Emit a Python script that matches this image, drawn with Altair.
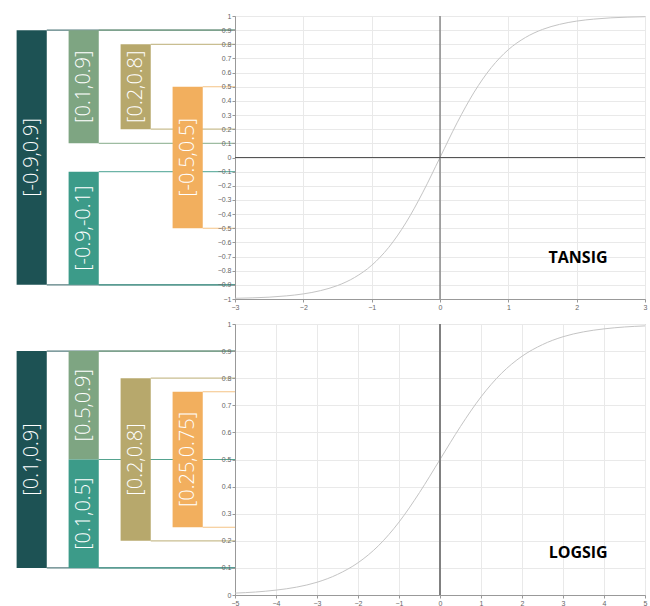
import altair as alt
import pandas as pd

# --- transfer function samples -------------------------------------------
tansig_x = [-3, -2.75, -2.5, -2.25, -2, -1.75, -1.5, -1.25, -1, -0.75, -0.5, -0.25,
            0, 0.25, 0.5, 0.75, 1, 1.25, 1.5, 1.75, 2, 2.25, 2.5, 2.75, 3]
tansig_y = [-0.995, -0.992, -0.987, -0.978, -0.964, -0.941, -0.905, -0.848, -0.762,
            -0.635, -0.462, -0.245, 0.0, 0.245, 0.462, 0.635, 0.762, 0.848, 0.905,
            0.941, 0.964, 0.978, 0.987, 0.992, 0.995]

logsig_x = [-5, -4.5, -4, -3.5, -3, -2.5, -2, -1.5, -1, -0.5, 0,
            0.5, 1, 1.5, 2, 2.5, 3, 3.5, 4, 4.5, 5]
logsig_y = [0.007, 0.011, 0.018, 0.029, 0.047, 0.076, 0.119, 0.182, 0.269, 0.378, 0.5,
            0.622, 0.731, 0.818, 0.881, 0.924, 0.953, 0.971, 0.982, 0.989, 0.993]

# --- normalisation ranges drawn beside each curve --------------------------
range_names = ["outer", "upper", "lower", "inner", "center"]
range_cols = [0, 1, 1, 2, 3]

tan_lo = [-0.9, 0.1, -0.9, 0.2, -0.5]
tan_hi = [0.9, 0.9, -0.1, 0.8, 0.5]

log_lo = [0.1, 0.5, 0.1, 0.2, 0.25]
log_hi = [0.9, 0.9, 0.5, 0.8, 0.75]

# --- axis ticks -----------------------------------------------------------
tan_xticks = [-3, -2, -1, 0, 1, 2, 3]
tan_yticks = [-1, -0.9, -0.8, -0.7, -0.6, -0.5, -0.4, -0.3, -0.2, -0.1, 0,
              0.1, 0.2, 0.3, 0.4, 0.5, 0.6, 0.7, 0.8, 0.9, 1]
log_xticks = [-5, -4, -3, -2, -1, 0, 1, 2, 3, 4, 5]
log_yticks = [0, 0.1, 0.2, 0.3, 0.4, 0.5, 0.6, 0.7, 0.8, 0.9, 1]

palette = ["#1d5254", "#7ea582", "#3c9b89", "#b7a86c", "#f2af5e"]
color_scale = alt.Scale(domain=range_names, range=palette)

LEFT_W = 235
PLOT_W = 410


def ranges_panel(lo, hi, ydom, height):
    df = pd.DataFrame({"name": range_names, "col": range_cols, "lo": lo, "hi": hi})
    xs = alt.Scale(type="band", paddingInner=0.42, paddingOuter=0.47, align=0.34)
    ys = alt.Scale(domain=ydom, nice=False, zero=False)
    base = alt.Chart(df)

    connectors = base.transform_fold(["lo", "hi"], as_=["end", "v"]).mark_rule(
        strokeWidth=1.2, opacity=0.75
    ).encode(
        x=alt.X("col:O", bandPosition=1, scale=xs, axis=None),
        x2=alt.value("width"),
        y=alt.Y("v:Q", scale=ys, axis=None),
        color=alt.Color("name:N", scale=color_scale, legend=None),
    )

    bars = base.mark_bar().encode(
        x=alt.X("col:O", scale=xs, axis=None),
        y=alt.Y("lo:Q", scale=ys, axis=None),
        y2="hi:Q",
        color=alt.Color("name:N", scale=color_scale, legend=None),
    )

    labels = base.transform_calculate(
        mid="(datum.lo + datum.hi) / 2",
        label="'[' + datum.lo + ',' + datum.hi + ']'",
    ).mark_text(
        angle=270, color="white", font="Open Sans", fontWeight=300, fontSize=20,
        align="center", baseline="middle",
    ).encode(
        x=alt.X("col:O", bandPosition=0.5, scale=xs, axis=None),
        y=alt.Y("mid:Q", scale=ys, axis=None),
        text="label:N",
    )

    return alt.layer(connectors, bars, labels).properties(
        width=LEFT_W, height=height, view=alt.ViewBackground(strokeOpacity=0)
    )


def axis(values):
    return alt.Axis(
        values=values, title=None, format="~g", labelFont="Liberation Sans",
        labelFontSize=7, labelColor="#666", labelPadding=1, tickSize=3,
        tickColor="#999", domainColor="#999", gridColor="#e9e9e9", grid=True,
        labelFlush=False, labelOverlap=False, tickCount=len(values),
    )


def curve_panel(xs_vals, ys_vals, xdom, ydom, xticks, yticks, height, name, lx, ly,
                hzero):
    df = pd.DataFrame({"x": xs_vals, "y": ys_vals})
    xsc = alt.Scale(domain=xdom, nice=False, zero=False)
    ysc = alt.Scale(domain=ydom, nice=False, zero=False)

    curve = alt.Chart(df).mark_line(
        color="#c4c4c4", strokeWidth=1, interpolate="monotone"
    ).encode(
        x=alt.X("x:Q", scale=xsc, axis=axis(xticks)),
        y=alt.Y("y:Q", scale=ysc, axis=axis(yticks)),
    )

    zero = pd.DataFrame({"v": [0]})
    layers = []
    if hzero:
        layers.append(alt.Chart(zero).mark_rule(color="#555", strokeWidth=1).encode(
            y=alt.Y("v:Q", scale=ysc)))
        layers.append(alt.Chart(zero).mark_rule(color="#555", strokeWidth=1).encode(
            x=alt.X("v:Q", scale=xsc)))
    else:
        layers.append(alt.Chart(zero).mark_rule(color="#808080", strokeWidth=2).encode(
            x=alt.X("v:Q", scale=xsc)))

    label = alt.Chart(zero).mark_text(
        font="Open Sans", fontWeight="bold", fontSize=16, color="black",
        align="center", baseline="middle",
    ).encode(x=alt.datum(lx), y=alt.datum(ly), text=alt.value(name))

    return alt.layer(curve, *layers, label).properties(
        width=PLOT_W, height=height, view=alt.ViewBackground(stroke="#aaa")
    )


top = alt.hconcat(
    ranges_panel(tan_lo, tan_hi, [-1, 1], 283),
    curve_panel(tansig_x, tansig_y, [-3, 3], [-1, 1], tan_xticks, tan_yticks, 283,
                "TANSIG", 2.02, -0.71, True),
    spacing=0, bounds="flush",
).resolve_scale(x="independent", y="independent")

bottom = alt.hconcat(
    ranges_panel(log_lo, log_hi, [0, 1], 271),
    curve_panel(logsig_x, logsig_y, [-5, 5], [0, 1], log_xticks, log_yticks, 271,
                "LOGSIG", 3.37, 0.155, False),
    spacing=0, bounds="flush",
).resolve_scale(x="independent", y="independent")

chart = alt.vconcat(top, bottom, spacing=8).properties(
    padding={"left": 0, "top": 11, "right": 2, "bottom": 1},
    background="white",
)

chart.save("out.html", embed_options={"renderer": "svg", "actions": False})
